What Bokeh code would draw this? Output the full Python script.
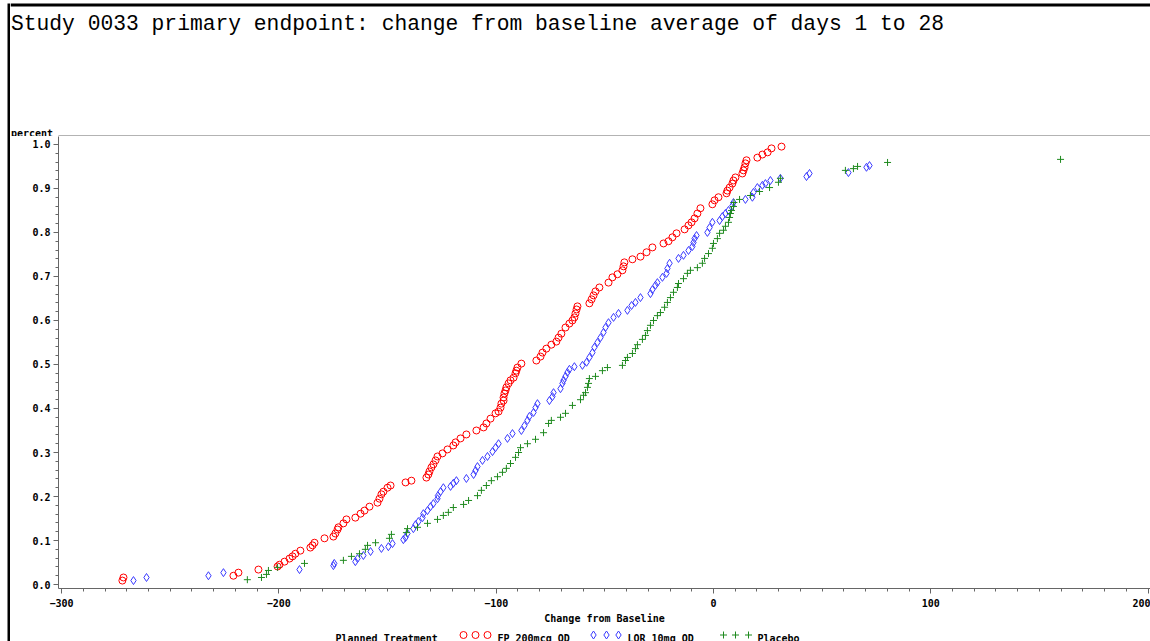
from bokeh.plotting import figure
from bokeh.layouts import row, column
from bokeh.models import Range1d, SingleIntervalTicker, PrintfTickFormatter
from bokeh.core.properties import value
from bokeh.embed import file_html
from bokeh.resources import INLINE

title_text = "Study 0033 primary endpoint: change from baseline average of days 1 to 28"
x_label = "Change from Baseline"
y_label = "percent"
legend_title = "Planned Treatment"
series_names = ["FP 200mcg QD", "LOR 10mg QD", "Placebo"]

fp_x = [-272.0, -271.5, -220.9, -218.6, -209.4, -200.6, -199.7, -197.4, -195.1, -193.7, -192.4, -190.1,
        -185.5, -184.5, -183.6, -179.0, -174.9, -174.0, -173.0, -172.6, -170.3, -168.9, -164.8, -162.4,
        -160.6, -158.3, -154.6, -153.7, -152.8, -151.9, -150.0, -148.6, -141.7, -139.0, -132.1, -131.2,
        -130.7, -129.8, -128.9, -127.9, -127.0, -124.7, -122.4, -119.7, -118.7, -116.4, -113.7, -109.1,
        -105.8, -104.5, -102.6, -100.3, -98.9, -98.0, -97.6, -96.6, -96.6, -96.2, -95.7, -95.3, -94.3,
        -93.4, -92.0, -91.1, -90.7, -90.2, -88.4, -81.5, -79.6, -78.7, -76.9, -74.6, -72.3, -71.3, -70.0,
        -68.1, -66.3, -64.9, -64.0, -63.5, -63.0, -62.6, -57.1, -56.1, -55.2, -54.3, -52.5, -48.3, -46.5,
        -44.2, -41.9, -41.4, -41.0, -37.3, -33.6, -30.8, -28.1, -23.0, -20.7, -18.9, -17.0, -13.3, -11.5,
        -10.1, -8.7, -7.4, -6.0, -0.5, 0.5, 2.3, 6.0, 6.4, 7.4, 8.7, 9.2, 10.1, 13.3, 13.8, 14.3, 14.7,
        15.2, 20.2, 22.5, 24.9, 26.7, 31.3]
fp_y = [0.009, 0.016, 0.020, 0.027, 0.034, 0.041, 0.045, 0.052, 0.059, 0.064, 0.070, 0.077,
        0.084, 0.089, 0.095, 0.105, 0.109, 0.116, 0.125, 0.130, 0.139, 0.148, 0.152, 0.161,
        0.168, 0.177, 0.186, 0.195, 0.205, 0.211, 0.220, 0.225, 0.232, 0.236, 0.243, 0.250,
        0.257, 0.266, 0.273, 0.282, 0.291, 0.298, 0.307, 0.316, 0.323, 0.332, 0.341, 0.350,
        0.357, 0.366, 0.377, 0.389, 0.393, 0.402, 0.411, 0.418, 0.425, 0.434, 0.441, 0.448, 0.457,
        0.464, 0.470, 0.480, 0.486, 0.493, 0.502, 0.509, 0.518, 0.527, 0.536, 0.545, 0.552, 0.561, 0.570,
        0.584, 0.593, 0.600, 0.607, 0.616, 0.625, 0.632, 0.639, 0.648, 0.657, 0.666, 0.675, 0.686, 0.698,
        0.705, 0.714, 0.723, 0.732, 0.739, 0.745, 0.755, 0.766, 0.775, 0.780, 0.789, 0.798, 0.807, 0.816,
        0.823, 0.832, 0.843, 0.855, 0.864, 0.873, 0.880, 0.889, 0.895, 0.902, 0.911, 0.918, 0.925, 0.934,
        0.941, 0.948, 0.957, 0.964, 0.970, 0.977, 0.982, 0.991, 0.995]

lor_x = [-266.9, -260.9, -232.4, -225.5, -190.5, -174.9, -174.5, -164.8, -163.8, -161.1, -157.8, -152.8,
         -149.6, -147.7, -142.7, -141.7, -140.8, -138.1, -137.1, -135.8, -133.9, -133.5, -131.6, -130.2,
         -128.9, -127.0, -126.8, -125.6, -124.3, -121.0, -119.7, -118.3, -113.7, -110.4, -109.5, -108.6,
         -106.3, -104.0, -101.7, -100.3, -98.9, -94.8, -92.5, -88.4, -87.0, -85.6, -84.7, -82.8, -81.9,
         -81.0, -75.5, -74.1, -73.6, -70.4, -69.5, -69.0, -68.1, -67.2, -66.3, -64.0, -60.3, -58.4, -57.1,
         -55.7, -54.8, -53.4, -52.0, -50.6, -49.7, -48.3, -46.0, -43.7, -39.6, -37.7, -35.9, -33.6, -29.0,
         -28.1, -26.7, -25.8, -23.5, -21.6, -21.2, -20.2, -16.1, -13.8, -11.5, -9.7, -9.2, -8.7, -7.8,
         -2.8, -1.8, -0.5, 2.8, 4.1, 5.5, 6.9, 8.7, 9.2, 14.7, 17.9, 18.4, 20.2, 22.5, 23.9, 26.2, 30.8,
         42.8, 44.2, 62.1, 70.4, 71.8]
lor_y = [0.009, 0.016, 0.020, 0.027, 0.034, 0.043, 0.048, 0.052, 0.059, 0.066, 0.075, 0.082,
         0.086, 0.093, 0.102, 0.107, 0.116, 0.127, 0.136, 0.143, 0.152, 0.161, 0.168, 0.177,
         0.184, 0.195, 0.202, 0.211, 0.220, 0.223, 0.230, 0.236, 0.241, 0.250, 0.259, 0.268,
         0.282, 0.291, 0.302, 0.311, 0.320, 0.332, 0.343, 0.350, 0.361, 0.373, 0.382, 0.391, 0.402,
         0.411, 0.418, 0.427, 0.436, 0.445, 0.457, 0.464, 0.473, 0.482, 0.489, 0.495, 0.498, 0.505, 0.516,
         0.527, 0.539, 0.550, 0.561, 0.573, 0.584, 0.595, 0.607, 0.616, 0.623, 0.634, 0.641, 0.652, 0.661,
         0.670, 0.680, 0.686, 0.698, 0.707, 0.718, 0.730, 0.741, 0.748, 0.759, 0.768, 0.777, 0.786, 0.793,
         0.800, 0.811, 0.823, 0.827, 0.836, 0.843, 0.850, 0.861, 0.868, 0.875, 0.880, 0.891, 0.902, 0.907,
         0.911, 0.918, 0.923, 0.927, 0.934, 0.936, 0.948, 0.952]

pbo_x = [-214.5, -208.0, -205.7, -204.8, -200.6, -188.2, -170.3, -166.6, -162.9, -160.2, -159.2, -155.5,
         -149.1, -148.2, -141.3, -140.8, -136.2, -131.6, -127.0, -124.3, -122.0, -119.7, -115.0, -112.7,
         -108.6, -106.8, -104.5, -102.2, -99.4, -97.1, -95.3, -93.4, -91.1, -89.7, -88.8, -85.6, -81.9,
         -78.2, -75.9, -74.6, -70.4, -68.1, -64.9, -61.2, -59.8, -58.9, -58.0, -57.5, -57.1, -54.3, -51.1,
         -48.8, -41.9, -40.5, -39.6, -37.3, -35.9, -35.0, -32.7, -31.3, -30.4, -29.0, -27.6, -25.8, -24.4,
         -22.5, -21.2, -19.8, -18.4, -16.6, -16.1, -13.8, -12.0, -10.6, -7.4, -5.1, -4.1, -2.3, -0.5, 0.0,
         1.8, 2.8, 4.6, 5.5, 6.9, 7.4, 7.8, 8.3, 9.2, 9.4, 12.0, 17.0, 21.2, 25.8, 29.9, 30.8, 60.7, 64.4,
         66.3, 80.1, 159.7]
pbo_y = [0.011, 0.016, 0.023, 0.032, 0.039, 0.048, 0.055, 0.064, 0.070, 0.080, 0.089, 0.095,
         0.105, 0.114, 0.118, 0.127, 0.130, 0.139, 0.148, 0.157, 0.164, 0.175, 0.182, 0.191,
         0.202, 0.214, 0.225, 0.236, 0.245, 0.255, 0.264, 0.275, 0.289, 0.300, 0.311, 0.320, 0.330,
         0.345, 0.366, 0.373, 0.380, 0.389, 0.407, 0.420, 0.430, 0.436, 0.448, 0.457, 0.468, 0.473, 0.486,
         0.493, 0.498, 0.509, 0.516, 0.525, 0.536, 0.545, 0.557, 0.566, 0.577, 0.589, 0.600, 0.611, 0.618,
         0.630, 0.641, 0.652, 0.664, 0.675, 0.684, 0.695, 0.707, 0.714, 0.720, 0.730, 0.741, 0.752, 0.764, 0.775,
         0.786, 0.798, 0.805, 0.814, 0.823, 0.834, 0.843, 0.850, 0.859, 0.868, 0.875, 0.884, 0.893, 0.902,
         0.914, 0.923, 0.941, 0.945, 0.950, 0.959, 0.966]

RED = "#ff0000"
BLUE = "#3a3aff"
GREEN = "#1f8a1f"
AX = "#666666"
MONO = "DejaVu Sans Mono"

STRIP_W = 10
W = 1150 - STRIP_W
HEAD_H = 136
MAIN_H = 490
LEG_H = 641 - HEAD_H - MAIN_H


def blank(width, height, yr):
    f = figure(width=width, height=height, output_backend="svg", toolbar_location=None,
               x_range=Range1d(0, width), y_range=yr,
               x_axis_location=None, y_axis_location=None,
               min_border_left=0, min_border_right=0, min_border_top=0, min_border_bottom=0)
    f.grid.visible = False
    f.outline_line_color = None
    f.background_fill_color = "white"
    f.border_fill_color = "white"
    return f


# left black page border
strip = blank(STRIP_W, 641, Range1d(641, 0))
strip.quad(left=[7], right=[10], top=[3], bottom=[641], fill_color="black", line_color=None)

# header: title, page border, y label, top frame line
head = blank(W, HEAD_H, Range1d(HEAD_H, 0))
head.quad(left=[0], right=[W], top=[3], bottom=[6], fill_color="black", line_color=None)
head.text(x=[0.5], y=[23], text=[title_text], text_font=value("Liberation Mono"),
          text_font_size=value("21.3px"), text_color="black", text_baseline="alphabetic",
          text_align="left")
head.text(x=[0.5], y=[132.5], text=[y_label], text_font=value(MONO), text_font_style="bold",
          text_font_size=value("10px"), text_color="black", text_baseline="alphabetic",
          text_align="left")
head.segment(x0=[48], y0=[135.5], x1=[W], y1=[135.5], line_color=AX, line_width=1)

# main plot
p = figure(width=W, height=MAIN_H, output_backend="svg", toolbar_location=None,
           x_range=Range1d(-301.4, 201.1), y_range=Range1d(-0.009, 1.018),
           min_border_left=48, min_border_right=0, min_border_top=0, min_border_bottom=38)
p.background_fill_color = "white"
p.border_fill_color = "white"
p.outline_line_color = None
p.grid.visible = False

p.scatter(fp_x, fp_y, marker="circle", size=7, fill_color=None, line_color=RED, line_width=1)
p.scatter(lor_x, lor_y, marker="diamond", size=8, fill_color=None, line_color=BLUE, line_width=1)
p.scatter(pbo_x, pbo_y, marker="cross", size=7, line_color=GREEN, line_width=1)

xa = p.xaxis[0]
xa.ticker = SingleIntervalTicker(interval=100, num_minor_ticks=10)
ya = p.yaxis[0]
ya.ticker = SingleIntervalTicker(interval=0.1, num_minor_ticks=5)
ya.formatter = PrintfTickFormatter(format="%.1f")
for ax in (xa, ya):
    ax.axis_line_color = AX
    ax.major_tick_line_color = AX
    ax.minor_tick_line_color = AX
    ax.major_tick_out = 5
    ax.major_tick_in = 0
    ax.minor_tick_out = 3
    ax.minor_tick_in = 0
    ax.major_label_text_font = MONO
    ax.major_label_text_font_style = "bold"
    ax.major_label_text_font_size = "10px"
    ax.major_label_text_color = "black"
xa.major_label_standoff = 5
ya.major_label_standoff = 3
xa.axis_label = x_label
xa.axis_label_text_font = MONO
xa.axis_label_text_font_style = "bold"
xa.axis_label_text_font_size = "10px"
xa.axis_label_text_color = "black"
xa.axis_label_standoff = 3

# legend row
leg = blank(W, LEG_H, Range1d(LEG_H, 0))
leg_base = 12
txt = dict(text_font=value(MONO), text_font_style="bold", text_font_size=value("10px"),
           text_color="black", text_baseline="alphabetic", text_align="left")
leg.text(x=[325], y=[leg_base], text=[legend_title], **txt)
mk_y = leg_base - 3.5
leg.scatter(x=[453, 465, 477], y=[mk_y] * 3, marker="circle", size=7, fill_color=None,
            line_color=RED, line_width=1)
leg.scatter(x=[583, 596, 608], y=[mk_y] * 3, marker="diamond", size=8, fill_color=None,
            line_color=BLUE, line_width=1)
leg.scatter(x=[713, 725, 738], y=[mk_y] * 3, marker="cross", size=7, line_color=GREEN, line_width=1)
leg.text(x=[487, 617, 747], y=[leg_base] * 3, text=series_names, **txt)

layout = row(strip, column(row(head, spacing=0), p, row(leg, spacing=0), spacing=0), spacing=0)
open("out.html", "w").write(file_html(layout, INLINE))
